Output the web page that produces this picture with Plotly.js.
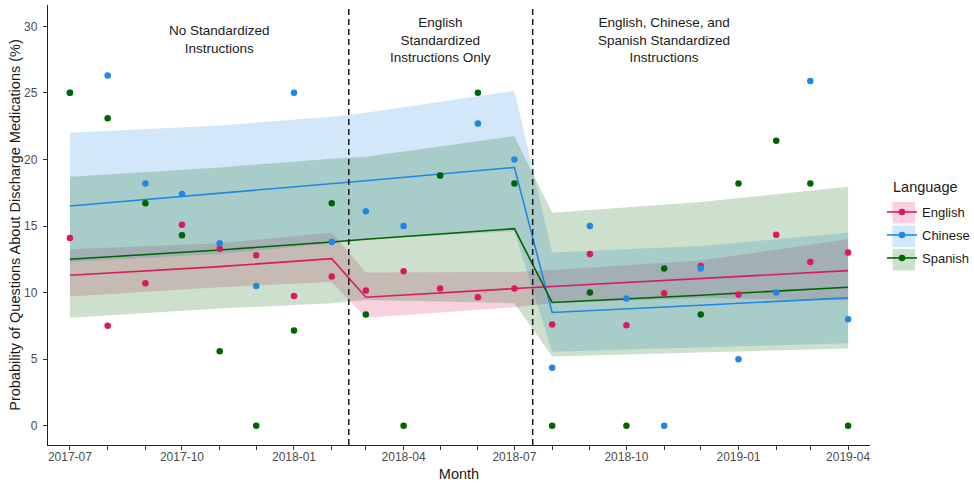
<!DOCTYPE html>
<html>
<head>
<meta charset="utf-8">
<script src="https://cdn.plot.ly/plotly-3.0.1.min.js"></script>
<style>
html,body{margin:0;padding:0;background:#ffffff;}
#chart{width:974px;height:487px;}
</style>
</head>
<body>
<div id="chart"></div>
<script>
// ---------- data ----------
const months = ['2017-07-01','2017-08-01','2017-09-01','2017-10-01','2017-11-01','2017-12-01',
  '2018-01-01','2018-02-01','2018-03-01','2018-04-01','2018-05-01','2018-06-01','2018-07-01',
  '2018-08-01','2018-09-01','2018-10-01','2018-11-01','2018-12-01','2019-01-01','2019-02-01',
  '2019-03-01','2019-04-01'];

const englishRate = [14.1, 7.5, 10.7, 15.1, 13.3, 12.8, 9.75, 11.2, 10.15, 11.6, 10.3, 9.65, 10.3,
  7.6, 12.9, 7.55, 9.95, 12.0, 9.85, 14.35, 12.3, 13.0];
const chineseRate = [25.0, 26.3, 18.2, 17.4, 13.7, 10.5, 25.0, 13.8, 16.1, 15.0, 18.8, 22.7, 20.0,
  4.35, 15.0, 9.55, 0, 11.8, 5.0, 10.0, 25.9, 8.0];
const spanishRate = [25.0, 23.1, 16.7, 14.3, 5.6, 0, 7.15, 16.7, 8.35, 0, 18.8, 25.0, 18.2,
  0, 10.0, 0, 11.8, 8.35, 18.2, 21.4, 18.2, 0];

const fitMonths = ['2017-07-01','2017-11-01','2018-02-01','2018-03-01','2018-07-01',
  '2018-08-01','2018-12-01','2019-04-01'];

const englishFit  = [11.3, 11.95, 12.55, 9.65, 10.3, 10.45, 11.05, 11.65];
const englishLow  = [9.7, 10.4, 10.8, 8.1, 8.9, 9.2, 9.6, 9.4];
const englishHigh = [13.25, 13.7, 14.5, 11.5, 11.55, 11.7, 12.4, 14.0];

const chineseFit  = [16.5, 17.45, 18.2, 18.4, 19.4, 8.5, 9.05, 9.6];
const chineseLow  = [12.3, 12.9, 13.7, 14.0, 14.6, 5.55, 5.9, 6.2];
const chineseHigh = [22.0, 22.55, 23.2, 23.5, 25.15, 13.0, 13.5, 14.5];

const spanishFit  = [12.5, 13.2, 13.8, 14.0, 14.8, 9.25, 9.8, 10.4];
const spanishLow  = [8.1, 8.8, 9.2, 9.45, 9.2, 5.2, 5.5, 5.8];
const spanishHigh = [18.7, 19.4, 20.05, 20.2, 21.75, 16.0, 16.8, 17.95];

const languages = ['English', 'Chinese', 'Spanish'];
const legendTitle = 'Language';
const phaseBreaks = ['2018-02-15', '2018-07-16'];
const phaseLabels = ['No Standardized<br>Instructions',
  'English<br>Standardized<br>Instructions Only',
  'English, Chinese, and<br>Spanish Standardized<br>Instructions'];
const phaseLabelX = ['2017-11-01', '2018-05-01', '2018-11-01'];

const tickVals = ['2017-07-01','2017-10-01','2018-01-01','2018-04-01','2018-07-01',
  '2018-10-01','2019-01-01','2019-04-01'];
const tickText = ['2017-07','2017-10','2018-01','2018-04','2018-07','2018-10','2019-01','2019-04'];

// ---------- styling ----------
const lineColors = {English: '#D81B60', Chinese: '#1E88E5', Spanish: '#006400'};
const fillColors = {English: 'rgba(216,27,96,0.2)', Chinese: 'rgba(30,136,229,0.2)', Spanish: 'rgba(0,100,0,0.2)'};
const FONT = 'Liberation Sans, Arial, Helvetica, sans-serif';

const series = {
  English: {rate: englishRate, fit: englishFit, low: englishLow, high: englishHigh},
  Chinese: {rate: chineseRate, fit: chineseFit, low: chineseLow, high: chineseHigh},
  Spanish: {rate: spanishRate, fit: spanishFit, low: spanishLow, high: spanishHigh}
};

const traces = [];
// ribbons
languages.forEach(lang => {
  const s = series[lang];
  traces.push({
    type: 'scatter', mode: 'lines',
    x: fitMonths.concat(fitMonths.slice().reverse()),
    y: s.high.concat(s.low.slice().reverse()),
    fill: 'toself', fillcolor: fillColors[lang],
    line: {width: 0}, hoverinfo: 'skip', showlegend: false
  });
});
// fitted lines
languages.forEach(lang => {
  const s = series[lang];
  traces.push({
    type: 'scatter', mode: 'lines', x: fitMonths, y: s.fit,
    line: {color: lineColors[lang], width: 1.6}, showlegend: false
  });
});
// observed points
languages.forEach(lang => {
  const s = series[lang];
  traces.push({
    type: 'scatter', mode: 'markers', x: months, y: s.rate,
    marker: {color: lineColors[lang], size: 6.5}, showlegend: false
  });
});
// legend entries
languages.forEach(lang => {
  traces.push({
    type: 'scatter', mode: 'lines+markers', x: [null], y: [null], name: lang,
    legendgroup: lang,
    line: {color: lineColors[lang], width: 1.6},
    marker: {color: lineColors[lang], size: 6.5}
  });
});

// plot area: x 48..870 px, y 5..445 px
const PW = 822, PH = 440, PL = 48, PB = 445;
const px2x = p => (p - PL) / PW;
const px2y = p => (PB - p) / PH;

const shapes = phaseBreaks.map(d => ({
  type: 'line', xref: 'x', yref: 'paper', x0: d, x1: d, y0: 0, y1: 1,
  line: {color: '#1a1a1a', width: 1.5, dash: '6px,4px'}, layer: 'above'
}));
// legend key backgrounds (ggplot-style squares)
languages.forEach((lang, i) => {
  const top = 202 + i * 23.5;
  shapes.push({
    type: 'rect', xref: 'paper', yref: 'paper',
    x0: px2x(892.5), x1: px2x(915), y0: px2y(top), y1: px2y(top + 21.5),
    fillcolor: fillColors[lang], line: {width: 0}, layer: 'below'
  });
});

const annotations = phaseLabels.map((t, i) => ({
  text: t, x: phaseLabelX[i], xref: 'x', y: 0.9205, yref: 'paper',
  xanchor: 'center', yanchor: 'middle', showarrow: false, align: 'center',
  font: {family: FONT, size: 13.5, color: '#1a1a1a'}
}));
annotations.push({
  text: legendTitle, xref: 'paper', yref: 'paper', x: px2x(891), y: px2y(187),
  xanchor: 'left', yanchor: 'middle', showarrow: false,
  font: {family: FONT, size: 14.5, color: '#1a1a1a'}
});

const layout = {
  width: 974, height: 487,
  margin: {l: PL, r: 974 - PL - PW, t: 5, b: 487 - PB, autoexpand: false},
  paper_bgcolor: '#ffffff', plot_bgcolor: '#ffffff',
  font: {family: FONT},
  showlegend: true,
  legend: {
    x: px2x(882), xanchor: 'left', y: px2y(197), yanchor: 'top',
    font: {family: FONT, size: 13, color: '#1a1a1a'},
    tracegroupgap: 3.1, bgcolor: 'rgba(0,0,0,0)', traceorder: 'grouped'
  },
  xaxis: {
    type: 'date', range: ['2017-06-13', '2019-04-19'],
    tickmode: 'array', tickvals: tickVals, ticktext: tickText,
    ticks: 'outside', ticklen: 4, tickwidth: 1, tickcolor: '#333333',
    minor: {dtick: 'M1', tick0: '2017-07-01', ticks: 'outside', ticklen: 4, tickwidth: 1, tickcolor: '#333333', showgrid: false},
    showline: true, linecolor: '#222222', linewidth: 1.3,
    showgrid: false, zeroline: false, ticklabelstandoff: -4,
    tickfont: {family: FONT, size: 12, color: '#4d4d4d'},
    title: {text: 'Month', font: {family: FONT, size: 14.5, color: '#1a1a1a'}, standoff: 6}
  },
  yaxis: {
    range: [-1.45, 31.6], tickmode: 'array', tickvals: [0, 5, 10, 15, 20, 25, 30],
    ticks: 'outside', ticklen: 4, tickwidth: 1, tickcolor: '#333333',
    showline: true, linecolor: '#222222', linewidth: 1.3,
    showgrid: false, zeroline: false, ticklabelstandoff: 3,
    tickfont: {family: FONT, size: 12, color: '#4d4d4d'},
    title: {text: 'Probability of Questions About Discharge Medications (%)', font: {family: FONT, size: 14.5, color: '#1a1a1a'}, standoff: 0}
  },
  shapes: shapes,
  annotations: annotations
};

Plotly.newPlot('chart', traces, layout, {displayModeBar: false, responsive: false});
</script>
</body>
</html>
